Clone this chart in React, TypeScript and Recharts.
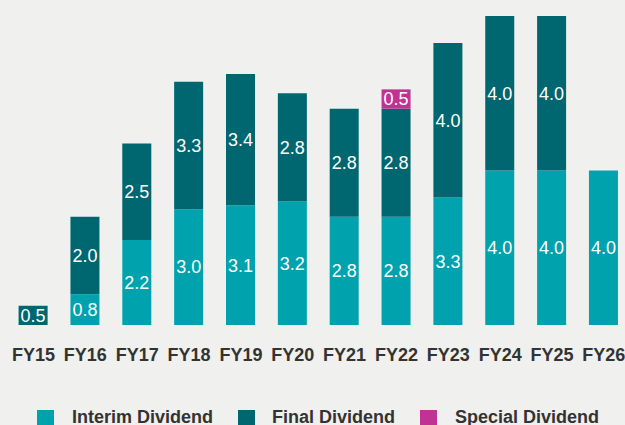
import { BarChart, Bar, XAxis, YAxis, LabelList, Legend } from 'recharts';

const years = ['FY15', 'FY16', 'FY17', 'FY18', 'FY19', 'FY20', 'FY21', 'FY22', 'FY23', 'FY24', 'FY25', 'FY26'];
const interim = [null, 0.8, 2.2, 3.0, 3.1, 3.2, 2.8, 2.8, 3.3, 4.0, 4.0, 4.0];
const finalDiv = [0.5, 2.0, 2.5, 3.3, 3.4, 2.8, 2.8, 2.8, 4.0, 4.0, 4.0, null];
const special = [null, null, null, null, null, null, null, 0.5, null, null, null, null];

const INTERIM = '#00a3ad';
const FINAL = '#006670';
const SPECIAL = '#c03394';
const FONT = '"Liberation Sans", Arial, sans-serif';

const legendItems = [
  { name: 'Interim Dividend', color: INTERIM, x: 37, tx: 72 },
  { name: 'Final Dividend', color: FINAL, x: 238, tx: 272 },
  { name: 'Special Dividend', color: SPECIAL, x: 420, tx: 455 },
];

const data = years.map((year, i) => ({
  year,
  interim: interim[i],
  final: finalDiv[i],
  special: special[i],
}));

const fmt = (v: any) => (v == null || v === 0 ? '' : Number(v).toFixed(1));

function renderLegend() {
  return (
    <div style={{ position: 'relative', width: 625, height: 20 }}>
      {legendItems.map((item) => (
        <div key={item.name}>
          <span
            style={{
              position: 'absolute',
              left: item.x,
              top: 0,
              width: 17,
              height: 17,
              background: item.color,
            }}
          />
          <span
            style={{
              position: 'absolute',
              left: item.tx,
              top: -3,
              fontFamily: FONT,
              fontWeight: 'bold',
              fontSize: 18,
              color: '#333333',
              whiteSpace: 'nowrap',
              lineHeight: '20px',
            }}
          >
            {item.name}
          </span>
        </div>
      ))}
    </div>
  );
}

const labelStyle = { fill: '#ffffff', fontSize: 18, fontFamily: FONT };

export default function App() {
  return (
    <div
      style={{
        position: 'absolute',
        left: 0,
        top: 0,
        width: 625,
        height: 425,
        overflow: 'hidden',
        background: '#f0f0ee',
      }}
    >
      <BarChart
        width={640}
        height={425}
        data={data}
        margin={{ top: 16, right: 10.2, left: 7.6, bottom: 50 }}
        barSize={29}
      >
        <XAxis
          dataKey="year"
          axisLine={false}
          tickLine={false}
          interval={0}
          tickMargin={17}
          height={30}
          tick={{ fill: '#333333', fontSize: 18, fontWeight: 'bold', fontFamily: FONT }}
        />
        <YAxis hide domain={[0, 8]} />
        <Legend
          content={renderLegend}
          wrapperStyle={{ position: 'absolute', left: 0, top: 410, width: 625, height: 20 }}
        />
        <Bar dataKey="interim" name="Interim Dividend" stackId="a" fill={INTERIM} isAnimationActive={false}>
          <LabelList dataKey="interim" position="center" formatter={fmt} style={labelStyle} />
        </Bar>
        <Bar dataKey="final" name="Final Dividend" stackId="a" fill={FINAL} isAnimationActive={false}>
          <LabelList dataKey="final" position="center" formatter={fmt} style={labelStyle} />
        </Bar>
        <Bar dataKey="special" name="Special Dividend" stackId="a" fill={SPECIAL} isAnimationActive={false}>
          <LabelList dataKey="special" position="center" formatter={fmt} style={labelStyle} />
        </Bar>
      </BarChart>
    </div>
  );
}
